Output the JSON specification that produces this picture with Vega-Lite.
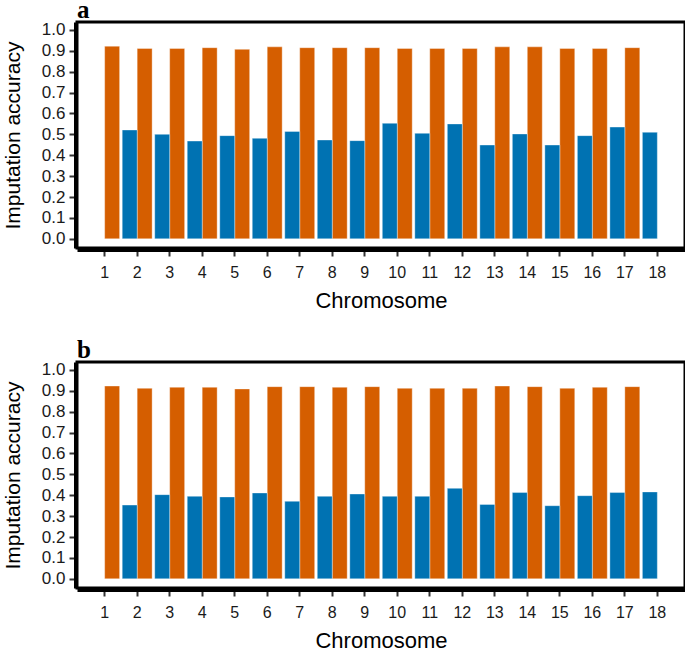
{
  "$schema": "https://vega.github.io/schema/vega-lite/v6.json",
  "padding": {"left": 0, "top": -4, "right": 0, "bottom": 0},
  "background": "white",
  "spacing": 23,
  "config": {
    "font": "Liberation Sans",
    "view": {"stroke": "black", "strokeWidth": 3},
    "axis": {
      "grid": false,
      "domainColor": "black",
      "domainWidth": 3,
      "offset": 2,
      "tickColor": "#333333",
      "tickWidth": 2,
      "tickSize": 6,
      "labelColor": "#1a1a1a",
      "labelFont": "Liberation Sans",
      "labelFontSize": 16,
      "titleFont": "Liberation Sans",
      "titleFontWeight": "normal",
      "titleColor": "black"
    },
    "title": {"font": "Liberation Serif", "fontWeight": "bold", "fontSize": 25, "anchor": "start", "frame": "group", "color": "black", "offset": -2, "dx": 0}
  },
  "datasets": {
    "acc": [
      {"panel": "a", "chrom": 1, "series": "S2", "acc": 0.922},
      {"panel": "a", "chrom": 2, "series": "S2", "acc": 0.911},
      {"panel": "a", "chrom": 3, "series": "S2", "acc": 0.911},
      {"panel": "a", "chrom": 4, "series": "S2", "acc": 0.915},
      {"panel": "a", "chrom": 5, "series": "S2", "acc": 0.907},
      {"panel": "a", "chrom": 6, "series": "S2", "acc": 0.919},
      {"panel": "a", "chrom": 7, "series": "S2", "acc": 0.915},
      {"panel": "a", "chrom": 8, "series": "S2", "acc": 0.915},
      {"panel": "a", "chrom": 9, "series": "S2", "acc": 0.915},
      {"panel": "a", "chrom": 10, "series": "S2", "acc": 0.911},
      {"panel": "a", "chrom": 11, "series": "S2", "acc": 0.911},
      {"panel": "a", "chrom": 12, "series": "S2", "acc": 0.911},
      {"panel": "a", "chrom": 13, "series": "S2", "acc": 0.919},
      {"panel": "a", "chrom": 14, "series": "S2", "acc": 0.919},
      {"panel": "a", "chrom": 15, "series": "S2", "acc": 0.911},
      {"panel": "a", "chrom": 16, "series": "S2", "acc": 0.911},
      {"panel": "a", "chrom": 17, "series": "S2", "acc": 0.915},
      {"panel": "a", "chrom": 2, "series": "S1", "acc": 0.521},
      {"panel": "a", "chrom": 3, "series": "S1", "acc": 0.500},
      {"panel": "a", "chrom": 4, "series": "S1", "acc": 0.468},
      {"panel": "a", "chrom": 5, "series": "S1", "acc": 0.494},
      {"panel": "a", "chrom": 6, "series": "S1", "acc": 0.481},
      {"panel": "a", "chrom": 7, "series": "S1", "acc": 0.514},
      {"panel": "a", "chrom": 8, "series": "S1", "acc": 0.473},
      {"panel": "a", "chrom": 9, "series": "S1", "acc": 0.470},
      {"panel": "a", "chrom": 10, "series": "S1", "acc": 0.553},
      {"panel": "a", "chrom": 11, "series": "S1", "acc": 0.505},
      {"panel": "a", "chrom": 12, "series": "S1", "acc": 0.550},
      {"panel": "a", "chrom": 13, "series": "S1", "acc": 0.449},
      {"panel": "a", "chrom": 14, "series": "S1", "acc": 0.502},
      {"panel": "a", "chrom": 15, "series": "S1", "acc": 0.449},
      {"panel": "a", "chrom": 16, "series": "S1", "acc": 0.494},
      {"panel": "a", "chrom": 17, "series": "S1", "acc": 0.535},
      {"panel": "a", "chrom": 18, "series": "S1", "acc": 0.510},
      {"panel": "b", "chrom": 1, "series": "S2", "acc": 0.923},
      {"panel": "b", "chrom": 2, "series": "S2", "acc": 0.912},
      {"panel": "b", "chrom": 3, "series": "S2", "acc": 0.917},
      {"panel": "b", "chrom": 4, "series": "S2", "acc": 0.917},
      {"panel": "b", "chrom": 5, "series": "S2", "acc": 0.909},
      {"panel": "b", "chrom": 6, "series": "S2", "acc": 0.920},
      {"panel": "b", "chrom": 7, "series": "S2", "acc": 0.920},
      {"panel": "b", "chrom": 8, "series": "S2", "acc": 0.917},
      {"panel": "b", "chrom": 9, "series": "S2", "acc": 0.920},
      {"panel": "b", "chrom": 10, "series": "S2", "acc": 0.912},
      {"panel": "b", "chrom": 11, "series": "S2", "acc": 0.912},
      {"panel": "b", "chrom": 12, "series": "S2", "acc": 0.912},
      {"panel": "b", "chrom": 13, "series": "S2", "acc": 0.923},
      {"panel": "b", "chrom": 14, "series": "S2", "acc": 0.920},
      {"panel": "b", "chrom": 15, "series": "S2", "acc": 0.912},
      {"panel": "b", "chrom": 16, "series": "S2", "acc": 0.917},
      {"panel": "b", "chrom": 17, "series": "S2", "acc": 0.920},
      {"panel": "b", "chrom": 2, "series": "S1", "acc": 0.353},
      {"panel": "b", "chrom": 3, "series": "S1", "acc": 0.403},
      {"panel": "b", "chrom": 4, "series": "S1", "acc": 0.395},
      {"panel": "b", "chrom": 5, "series": "S1", "acc": 0.392},
      {"panel": "b", "chrom": 6, "series": "S1", "acc": 0.411},
      {"panel": "b", "chrom": 7, "series": "S1", "acc": 0.371},
      {"panel": "b", "chrom": 8, "series": "S1", "acc": 0.395},
      {"panel": "b", "chrom": 9, "series": "S1", "acc": 0.406},
      {"panel": "b", "chrom": 10, "series": "S1", "acc": 0.395},
      {"panel": "b", "chrom": 11, "series": "S1", "acc": 0.395},
      {"panel": "b", "chrom": 12, "series": "S1", "acc": 0.433},
      {"panel": "b", "chrom": 13, "series": "S1", "acc": 0.356},
      {"panel": "b", "chrom": 14, "series": "S1", "acc": 0.413},
      {"panel": "b", "chrom": 15, "series": "S1", "acc": 0.350},
      {"panel": "b", "chrom": 16, "series": "S1", "acc": 0.398},
      {"panel": "b", "chrom": 17, "series": "S1", "acc": 0.413},
      {"panel": "b", "chrom": 18, "series": "S1", "acc": 0.416}
    ]
  },
  "vconcat": [
    {
      "title": {"text": "a"},
      "width": 608,
      "height": 226,
      "data": {"name": "acc"},
      "transform": [{"filter": "datum.panel === 'a'"}],
      "mark": {"type": "bar", "stroke": "white", "strokeWidth": 0.6, "strokeOpacity": 0.6},
      "encoding": {
        "x": {"field": "chrom", "type": "ordinal", "scale": {"domain": [1,2,3,4,5,6,7,8,9,10,11,12,13,14,15,16,17,18], "paddingInner": 0.08, "paddingOuter": 0.391},
              "axis": {"title": "Chromosome", "labelAngle": 0, "labelPadding": 8, "titlePadding": 10, "titleFontSize": 22}},
        "xOffset": {"field": "series", "type": "nominal", "scale": {"domain": ["S1", "S2"], "paddingInner": 0, "paddingOuter": 0}},
        "y": {"field": "acc", "type": "quantitative", "scale": {"domain": [-0.044, 1.038], "nice": false, "zero": false},
              "axis": {"title": "Imputation accuracy", "values": [0,0.1,0.2,0.3,0.4,0.5,0.6,0.7,0.8,0.9,1.0], "format": ".1f", "labelPadding": 4, "labelFontSize": 17, "titlePadding": 18, "titleFontSize": 21}},
        "y2": {"datum": 0},
        "color": {"field": "series", "type": "nominal", "scale": {"domain": ["S1", "S2"], "range": ["#0072B2", "#D55E00"]}, "legend": null}
      }
    },
    {
      "title": {"text": "b"},
      "width": 608,
      "height": 226,
      "data": {"name": "acc"},
      "transform": [{"filter": "datum.panel === 'b'"}],
      "mark": {"type": "bar", "stroke": "white", "strokeWidth": 0.6, "strokeOpacity": 0.6},
      "encoding": {
        "x": {"field": "chrom", "type": "ordinal", "scale": {"domain": [1,2,3,4,5,6,7,8,9,10,11,12,13,14,15,16,17,18], "paddingInner": 0.08, "paddingOuter": 0.391},
              "axis": {"title": "Chromosome", "labelAngle": 0, "labelPadding": 8, "titlePadding": 10, "titleFontSize": 22}},
        "xOffset": {"field": "series", "type": "nominal", "scale": {"domain": ["S1", "S2"], "paddingInner": 0, "paddingOuter": 0}},
        "y": {"field": "acc", "type": "quantitative", "scale": {"domain": [-0.044, 1.038], "nice": false, "zero": false},
              "axis": {"title": "Imputation accuracy", "values": [0,0.1,0.2,0.3,0.4,0.5,0.6,0.7,0.8,0.9,1.0], "format": ".1f", "labelPadding": 4, "labelFontSize": 17, "titlePadding": 18, "titleFontSize": 21}},
        "y2": {"datum": 0},
        "color": {"field": "series", "type": "nominal", "scale": {"domain": ["S1", "S2"], "range": ["#0072B2", "#D55E00"]}, "legend": null}
      }
    }
  ]
}
